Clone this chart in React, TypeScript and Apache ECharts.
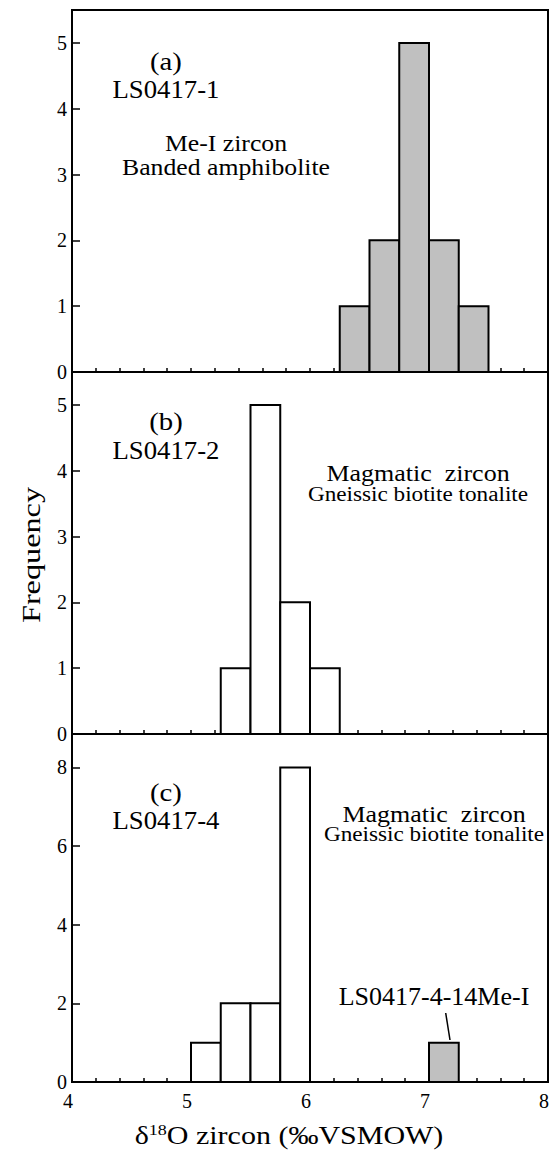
import React, { useEffect, useRef } from "react";
import * as echarts from "echarts";

// ---- data ----
const binWidth = 0.25;
const binStartA = [6.25, 6.5, 6.75, 7.0, 7.25];
const countsA = [1, 2, 5, 2, 1];
const binStartB = [5.25, 5.5, 5.75, 6.0];
const countsB = [1, 5, 2, 1];
const binStartC = [5.0, 5.25, 5.5, 5.75];
const countsC = [1, 2, 2, 8];
const binStartCMe = [7.0];
const countsCMe = [1];

const xMin = 4;
const xMax = 8;
const xTickLabels = [4, 5, 6, 7, 8];
const yMaxAB = 5.5;
const yMaxC = 8.85;

const FONT = "'Liberation Serif', 'Times New Roman', serif";

function histData(starts: number[], counts: number[]) {
  return starts.map((s, i) => [s, counts[i]]);
}

function histSeries(idx: number, starts: number[], counts: number[], fill: string) {
  return {
    type: "custom",
    xAxisIndex: idx,
    yAxisIndex: idx,
    clip: false,
    data: histData(starts, counts),
    renderItem: (params: any, api: any) => {
      const x0 = api.value(0);
      const y = api.value(1);
      const p0 = api.coord([x0, 0]);
      const p1 = api.coord([x0 + binWidth, y]);
      return {
        type: "rect",
        shape: { x: p0[0], y: p1[1], width: p1[0] - p0[0], height: p0[1] - p1[1] },
        style: { fill, stroke: "#000", lineWidth: 2 },
      };
    },
  };
}

function xAxisCfg(idx: number, showLabels: boolean) {
  return {
    type: "value",
    gridIndex: idx,
    min: xMin,
    max: xMax,
    interval: 1,
    axisLine: { show: true, lineStyle: { color: "#000", width: 2 } },
    axisTick: { show: true, inside: true, length: 4, lineStyle: { color: "#000", width: 1.5 } },
    minorTick: { show: true, splitNumber: 5, length: 4, lineStyle: { color: "#000", width: 1.5 } },
    splitLine: { show: false },
    axisLabel: {
      show: showLabels,
      color: "#000",
      fontFamily: FONT,
      fontSize: 20,
      margin: 9,
      padding: [0, 8, 0, 0],
      formatter: (v: number) => (xTickLabels.includes(v) ? String(v) : ""),
    },
  };
}

function yAxisCfg(idx: number, max: number, interval: number) {
  return {
    type: "value",
    gridIndex: idx,
    min: 0,
    max,
    interval,
    axisLine: { show: true, lineStyle: { color: "#000", width: 2 } },
    axisTick: { show: true, inside: true, length: 8, lineStyle: { color: "#000", width: 1.5 } },
    splitLine: { show: false },
    axisLabel: {
      color: "#000",
      fontFamily: FONT,
      fontSize: 20,
      margin: 5,
      formatter: (v: number) => (Math.abs(v / interval - Math.round(v / interval)) < 1e-6 ? String(v) : ""),
    },
  };
}

function label(text: string, x: number, y: number, fontSize: number, scaleX = 1.15) {
  return {
    type: "text",
    x,
    y,
    scaleX,
    style: {
      text,
      fontSize,
      fontFamily: FONT,
      fill: "#000",
      align: "center",
      verticalAlign: "middle",
    },
  };
}

export default function App() {
  const ref = useRef<HTMLDivElement>(null);
  useEffect(() => {
    const chart = echarts.init(ref.current!, null, { renderer: "svg" });
    const gridBase = {
      left: 72,
      width: 476,
      show: true,
      borderColor: "#000",
      borderWidth: 2,
      backgroundColor: "transparent",
      outerBoundsMode: "none",
      containLabel: false,
    };
    chart.setOption({
      animation: false,
      backgroundColor: "#fff",
      grid: [
        { ...gridBase, top: 10, height: 362 },
        { ...gridBase, top: 372, height: 362 },
        { ...gridBase, top: 734, height: 348 },
      ],
      xAxis: [xAxisCfg(0, false), xAxisCfg(1, false), xAxisCfg(2, true)],
      yAxis: [yAxisCfg(0, yMaxAB, 1), yAxisCfg(1, yMaxAB, 1), yAxisCfg(2, yMaxC, 2)],
      series: [
        histSeries(0, binStartA, countsA, "#c0c0c0"),
        histSeries(1, binStartB, countsB, "#ffffff"),
        histSeries(2, binStartC, countsC, "#ffffff"),
        histSeries(2, binStartCMe, countsCMe, "#c0c0c0"),
      ],
      graphic: [
        label("(a)", 166, 62, 25),
        label("LS0417-1", 166, 90, 25, 1.07),
        label("Me-I zircon", 226, 143, 23, 1.12),
        label("Banded amphibolite", 226, 167, 23, 1.12),
        label("(b)", 166, 422, 25),
        label("LS0417-2", 166, 451, 25, 1.07),
        label("Magmatic  zircon", 418, 473, 23, 1.13),
        label("Gneissic biotite tonalite", 418, 495, 20, 1.16),
        label("(c)", 166, 793, 25),
        label("LS0417-4", 166, 821, 25, 1.07),
        label("Magmatic  zircon", 434, 814, 23, 1.13),
        label("Gneissic biotite tonalite", 434, 835, 20, 1.16),
        label("LS0417-4-14Me-I", 434, 997, 25, 1.04),
        {
          type: "line",
          shape: { x1: 445.7, y1: 1013, x2: 450, y2: 1040 },
          style: { stroke: "#000", lineWidth: 1.5 },
        },
        {
          type: "text",
          x: 31,
          y: 555,
          rotation: Math.PI / 2,
          scaleX: 1.29,
          style: {
            text: "Frequency",
            fontSize: 25,
            fontFamily: FONT,
            fill: "#000",
            align: "center",
            verticalAlign: "middle",
          },
        },
        {
          type: "text",
          x: 289,
          y: 1134,
          scaleX: 1.2,
          style: {
            text: "{n|δ}{s|18}{n|O zircon (‰VSMOW)}",
            align: "center",
            verticalAlign: "middle",
            rich: {
              n: { fontSize: 25, fontFamily: FONT, fill: "#000", verticalAlign: "bottom", lineHeight: 28 },
              s: { fontSize: 15, fontFamily: FONT, fill: "#000", verticalAlign: "bottom", lineHeight: 28, padding: [0, 0, 10, 0] },
            },
          },
        },
      ],
    });
    return () => chart.dispose();
  }, []);
  return (
    <div
      ref={ref}
      style={{ position: "absolute", left: 0, top: 0, width: 549, height: 1157 }}
    />
  );
}
